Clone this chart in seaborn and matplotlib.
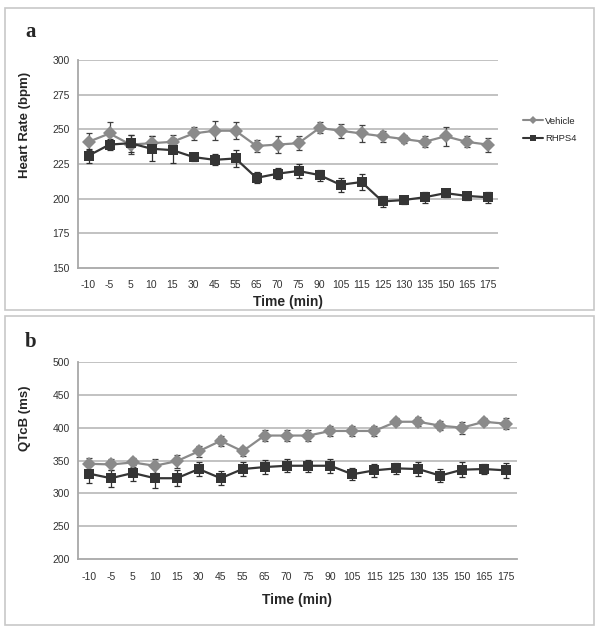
import matplotlib
matplotlib.use("Agg")
import matplotlib.pyplot as plt
import seaborn as sns
import numpy as np
import pandas as pd
from matplotlib.patches import Rectangle
from matplotlib.lines import Line2D

sns.set_theme(style="white")
plt.rcParams['font.family'] = ['Liberation Sans', 'DejaVu Sans']

times = ["-10", "-5", "5", "10", "15", "30", "45", "55", "65", "70", "75", "90",
         "105", "115", "125", "130", "135", "150", "165", "175"]

hr_vehicle = [241, 247, 239, 240, 241, 247, 249, 249, 238, 239, 240, 251,
              249, 247, 245, 243, 241, 245, 241, 239]
hr_vehicle_err = [6, 8, 7, 5, 5, 5, 7, 6, 4, 6, 5, 4, 5, 6, 4, 3, 4, 7, 4, 5]
hr_rhps4 = [231, 239, 240, 236, 235, 230, 228, 229, 215, 218, 220, 217,
            210, 212, 198, 199, 201, 204, 202, 201]
hr_rhps4_err = [5, 4, 6, 9, 9, 3, 4, 6, 4, 4, 5, 4, 5, 6, 4, 3, 4, 3, 3, 4]

qt_vehicle = [345, 344, 347, 342, 349, 364, 380, 364, 388, 388, 388, 395,
              395, 395, 409, 409, 403, 400, 409, 406]
qt_vehicle_err = [9, 9, 7, 11, 10, 8, 8, 7, 9, 8, 8, 8, 7, 8, 5, 7, 7, 9, 5, 8]
qt_rhps4 = [330, 323, 331, 323, 323, 337, 323, 337, 340, 342, 342, 342,
            329, 335, 338, 337, 327, 336, 337, 335]
qt_rhps4_err = [15, 13, 12, 15, 12, 10, 11, 10, 11, 10, 9, 11, 9, 10, 8, 10, 10, 11, 8, 11]

c_veh = "#8a8a8a"
c_rh = "#353535"
grid_c = "#bdbdbd"

fig = plt.figure(figsize=(6.0, 6.32), dpi=100)

# panel boxes
for (y0, y1) in [(8, 310), (316, 625)]:
    fig.patches.append(Rectangle((5 / 600, 1 - y1 / 632), 589 / 600, (y1 - y0) / 632,
                                 transform=fig.transFigure, fill=False,
                                 edgecolor="#c8c8c8", linewidth=1.2))


def draw(ax, veh, veh_err, rh, rh_err, ylim, yticks, ylabel, label_y, xlabelpad):
    pos = np.arange(len(times))
    df = pd.DataFrame({"pos": np.concatenate([pos, pos]),
                       "val": veh + rh,
                       "group": ["Vehicle"] * len(pos) + ["RHPS4"] * len(pos)})
    for y in yticks[1:]:
        ax.axhline(y, color=grid_c, lw=1.3, zorder=0)
    ax.errorbar(pos, veh, yerr=veh_err, fmt="none", ecolor="#404040",
                elinewidth=0.9, capsize=2.5, capthick=0.9, zorder=2)
    ax.errorbar(pos, rh, yerr=rh_err, fmt="none", ecolor="#303030",
                elinewidth=0.9, capsize=2.5, capthick=0.9, zorder=2)
    sns.lineplot(data=df, x="pos", y="val", hue="group", style="group",
                 palette={"Vehicle": c_veh, "RHPS4": c_rh},
                 markers={"Vehicle": "D", "RHPS4": "s"},
                 dashes={"Vehicle": "", "RHPS4": ""},
                 markersize=7, markeredgewidth=0, linewidth=1.6, ax=ax,
                 legend=False, zorder=3)
    ax.set_xlim(-0.5, len(times) - 0.5)
    ax.set_ylim(*ylim)
    ax.set_yticks(yticks)
    ax.set_yticklabels([str(v) for v in yticks], fontsize=7.5, color="#333333")
    ax.set_xticks(pos)
    ax.set_xticklabels(times, fontsize=7.5, color="#333333")
    ax.set_xticks(np.arange(-0.5, len(times) + 0.5, 1.0), minor=True)
    ax.tick_params(axis="x", which="major", length=0, pad=9)
    ax.tick_params(axis="x", which="minor", length=3, color="#999999", width=1)
    ax.tick_params(axis="y", length=3, color="#999999", pad=3)
    for s in ["top", "right"]:
        ax.spines[s].set_visible(False)
    for s in ["left", "bottom"]:
        ax.spines[s].set_color("#a8a8a8")
        ax.spines[s].set_linewidth(1.3)
    ax.set_xlabel("Time (min)", fontsize=10, fontweight="bold", labelpad=xlabelpad)
    ax.set_ylabel(ylabel, fontsize=9.5, fontweight="bold")
    ax.yaxis.set_label_coords(-47 / (ax.get_position().width * 600), label_y)


ax1 = fig.add_axes([78 / 600, 1 - 268 / 632, 420 / 600, 208 / 632])
draw(ax1, hr_vehicle, hr_vehicle_err, hr_rhps4, hr_rhps4_err,
     (150, 300), [150, 175, 200, 225, 250, 275, 300], "Heart Rate (bpm)", 0.69, 3)

ax2 = fig.add_axes([78 / 600, 1 - 559 / 632, 439 / 600, 197 / 632])
draw(ax2, qt_vehicle, qt_vehicle_err, qt_rhps4, qt_rhps4_err,
     (200, 500), [200, 250, 300, 350, 400, 450, 500], "QTcB (ms)", 0.716, 8)

fig.text(25 / 600, 1 - 32 / 632, "a", fontsize=15, fontweight="bold",
         family=["Liberation Serif"], va="center")
fig.text(25 / 600, 1 - 342 / 632, "b", fontsize=15, fontweight="bold",
         family=["Liberation Serif"], va="center")

# legend
handles = [Line2D([], [], color=c_veh, marker="D", markersize=4, lw=1.5, markeredgewidth=0),
           Line2D([], [], color=c_rh, marker="s", markersize=4, lw=1.5, markeredgewidth=0)]
fig.legend(handles, ["Vehicle", "RHPS4"], loc="center left",
           bbox_to_anchor=(514 / 600, 1 - 130 / 632), frameon=False,
           fontsize=6.8, handlelength=2.2, handletextpad=0.2, labelspacing=0.95)

fig.savefig("out.png", dpi=100)
